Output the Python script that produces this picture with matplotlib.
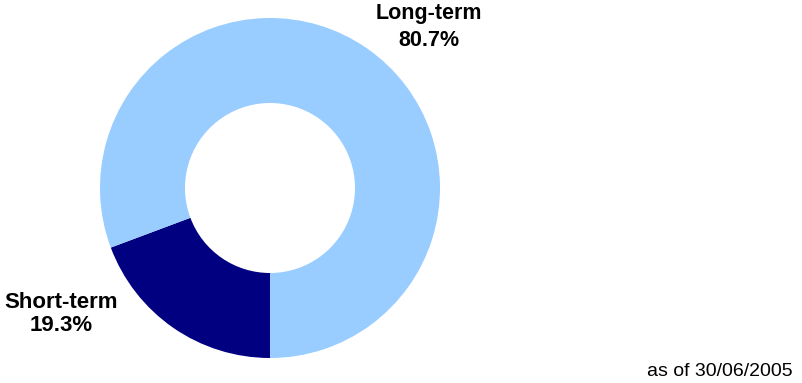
import matplotlib.pyplot as plt

plt.rcParams['font.family'] = ['Liberation Sans', 'DejaVu Sans']

labels = ["Short-term", "Long-term"]
shares = [19.3, 80.7]
colors = ["#000080", "#99CCFF"]

fig = plt.figure(figsize=(8.03, 3.83), dpi=100)
ax = fig.add_axes([100 / 803, 25 / 383, 340 / 803, 340 / 383])

ax.pie(shares, colors=colors, startangle=270, counterclock=False,
       radius=1.0, wedgeprops=dict(width=0.5, linewidth=0))
ax.set_xlim(-1, 1)
ax.set_ylim(-1, 1)
ax.set_aspect('equal')
ax.axis('off')

fig.text(429 / 803, 1 - 27 / 383, f"{labels[1]}\n{shares[1]:.1f}%",
         ha='center', va='center', fontsize=15.5, fontweight='bold',
         linespacing=1.32)
fig.text(61 / 803, 1 - 314 / 383, f"{labels[0]}\n{shares[0]:.1f}%",
         ha='center', va='center', fontsize=16, fontweight='bold',
         linespacing=1.15)
fig.text(793 / 803, 1 - 372 / 383, "as of 30/06/2005",
         ha='right', va='center', fontsize=14)

fig.savefig("out.png", dpi=100)
